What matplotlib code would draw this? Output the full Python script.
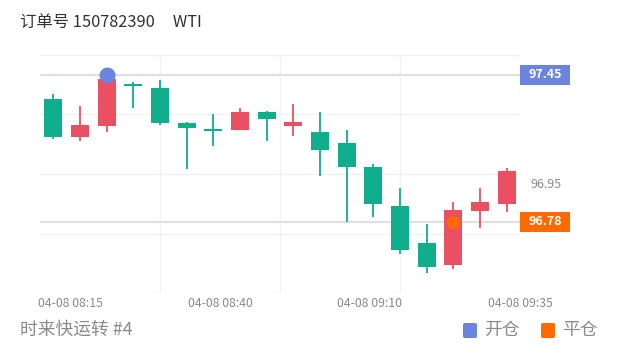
import matplotlib
matplotlib.use("Agg")
import matplotlib.pyplot as plt
from matplotlib.patches import FancyBboxPatch, Rectangle

plt.rcParams['font.family'] = ['Noto Sans CJK SC', 'DejaVu Sans']

# candle data (5 min bars)
opens = [97.341, 97.167, 97.218, 97.410, 97.389, 97.233, 97.203, 97.198, 97.281,
         97.219, 97.192, 97.141, 97.032, 96.854, 96.686, 96.583, 96.830, 96.861]
closes = [97.169, 97.222, 97.430, 97.399, 97.230, 97.208, 97.193, 97.281, 97.248,
          97.234, 97.108, 97.029, 96.861, 96.652, 96.574, 96.833, 96.873, 97.014]
highs = [97.362, 97.310, 97.436, 97.419, 97.427, 97.236, 97.271, 97.301, 97.284,
         97.319, 97.281, 97.201, 97.044, 96.934, 96.771, 96.873, 96.934, 97.025]
lows = [97.158, 97.149, 97.189, 97.298, 97.222, 97.020, 97.128, 97.197, 97.149,
        97.171, 96.991, 96.781, 96.801, 96.634, 96.546, 96.564, 96.754, 96.824]

tick_pos = [0.625, 6.25, 11.875, 17.5]
tick_labels = ['04-08 08:15', '04-08 08:40', '04-08 09:10', '04-08 09:35']

open_idx, open_price = 2, 97.45
close_idx, close_price = 15, 96.78
last_label = 96.95

up_color = '#eb5062'
down_color = '#10ae8d'
blue = '#6b84dd'
orange = '#ff6a00'

fig = plt.figure(figsize=(6.2, 3.52), dpi=100)
ax = fig.add_axes([40/620, 59/352, 480/620, 238/352])
ymin, ymax = 96.456, 97.541
ax.set_xlim(-0.5, 17.5)
ax.set_ylim(ymin, ymax)

# faint split lines
for i in range(5):
    ax.axhline(ymin + (ymax - ymin) * i / 4, color='#f0f0f0', lw=1, zorder=0)
for xv in [4, 8.5, 13, 17.5]:
    ax.axvline(xv, color='#f3f3f3', lw=1, zorder=0)

# mark lines
ax.axhline(open_price, color='#e0e0e0', lw=1.6, zorder=1)
ax.axhline(close_price, color='#e0e0e0', lw=1.6, zorder=1)

for i, (o, c, h, l) in enumerate(zip(opens, closes, highs, lows)):
    col = up_color if c >= o else down_color
    ax.vlines(i, l, h, color=col, lw=1.3, zorder=2)
    bot = min(o, c)
    hgt = max(abs(c - o), 0.006)
    ax.bar(i, hgt, bottom=bot - (0.003 if abs(c - o) < 0.006 else 0), width=0.68,
           color=col, zorder=3)

ax.scatter([open_idx], [open_price], s=110, color=blue, zorder=5)
ax.scatter([close_idx], [close_price], s=70, color=orange, zorder=5)

ax.set_xticks(tick_pos)
ax.set_xticklabels(tick_labels, fontsize=8.8, color='#8a8a8a')
ax.tick_params(axis='x', length=0, pad=3)
ax.set_yticks([])
for s in ax.spines.values():
    s.set_visible(False)

# right side price labels
ytr = ax.get_yaxis_transform()
hh = 10 / 238 * (ymax - ymin)  # half of a 20px box
for val, col in [(open_price, blue), (close_price, orange)]:
    ax.add_patch(Rectangle((1.0, val - hh), 50/480, 2 * hh, transform=ytr,
                           fc=col, ec='none', clip_on=False, zorder=6))
    ax.text(1.0 + 25/480, val, f'{val:.2f}', transform=ytr, ha='center', va='center',
            fontsize=9, color='white', fontweight='semibold', zorder=7, clip_on=False)
ax.text(1.0 + 26/480, last_label, f'{last_label:.2f}', transform=ytr, ha='center',
        va='center', fontsize=9, color='#8a8a8a', clip_on=False)

fig.text(20/620, 1 - 22/352, '订单号 150782390     WTI', fontsize=11.8, color='#333333',
         ha='left', va='center')
fig.text(20/620, 1 - 330/352, '时来快运转 #4', fontsize=12.8, color='#8a8a8a',
         ha='left', va='center')

# legend
for x0, col, lab in [(463, blue, '开仓'), (541, orange, '平仓')]:
    fig.patches.append(FancyBboxPatch((x0/620, 1 - 338/352), 14/620, 15/352,
                                      boxstyle='round,pad=0,rounding_size=0.004',
                                      transform=fig.transFigure, fc=col, ec='none'))
    fig.text((x0 + 21)/620, 1 - 330/352, lab, fontsize=12.8, color='#8a8a8a',
             ha='left', va='center')

fig.savefig('out.png', dpi=100)
